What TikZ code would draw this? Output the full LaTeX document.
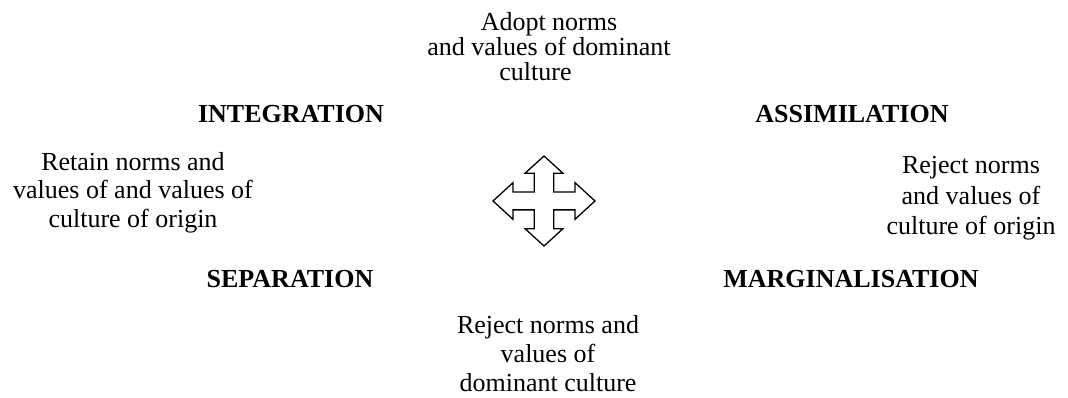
\documentclass[tikz,border=0pt]{standalone}
\usepackage{fontspec}
\setmainfont{Liberation Serif}
\begin{document}
\begin{tikzpicture}[x=1pt,y=-1pt,
  lbl/.style={anchor=base,inner sep=0pt,align=center,font=\fontsize{26}{27}\selectfont},
  head/.style={anchor=base,inner sep=0pt,font=\fontsize{26}{27}\selectfont\bfseries},
  crossarrow/.style={draw=black,line width=1.3pt,line join=miter,fill=white}]
\useasboundingbox (0,0) rectangle (1068,398);
% texts (anchor = baseline of last line)
\node[lbl,font=\fontsize{26}{25}\selectfont] (top) at (549,81) {Adopt norms\\and values of dominant\\culture\hspace*{27pt}};
\node[head] (integ) at (291,123) {INTEGRATION};
\node[head] (assim) at (852,123) {ASSIMILATION};
\node[lbl,font=\fontsize{26}{29}\selectfont] (left) at (133,228) {Retain norms and\\values of and values of\\culture of origin};
\node[lbl,font=\fontsize{26}{31}\selectfont] (right) at (971,235) {Reject norms\\and values of\\culture of origin};
\node[head] (sep) at (290,287) {SEPARATION};
\node[head] (marg) at (851,287) {MARGINALISATION};
\node[lbl,font=\fontsize{26}{29}\selectfont] (bottom) at (548,391) {Reject norms and\\values of\\dominant culture};
% four-way arrow
\begin{scope}[shift={(544,201)}]
\draw[crossarrow]
  (0,-45) -- (19,-27.7) -- (9.8,-27.7) -- (9.8,-8.9) -- (31,-8.9) -- (31,-18.3)
  -- (51,0) -- (31,18.3) -- (31,8.9) -- (9.8,8.9) -- (9.8,27.7) -- (19,27.7)
  -- (0,45) -- (-19,27.7) -- (-9.8,27.7) -- (-9.8,8.9) -- (-31,8.9) -- (-31,18.3)
  -- (-51,0) -- (-31,-18.3) -- (-31,-8.9) -- (-9.8,-8.9) -- (-9.8,-27.7) -- (-19,-27.7)
  -- cycle;
\end{scope}
\end{tikzpicture}
\end{document}
